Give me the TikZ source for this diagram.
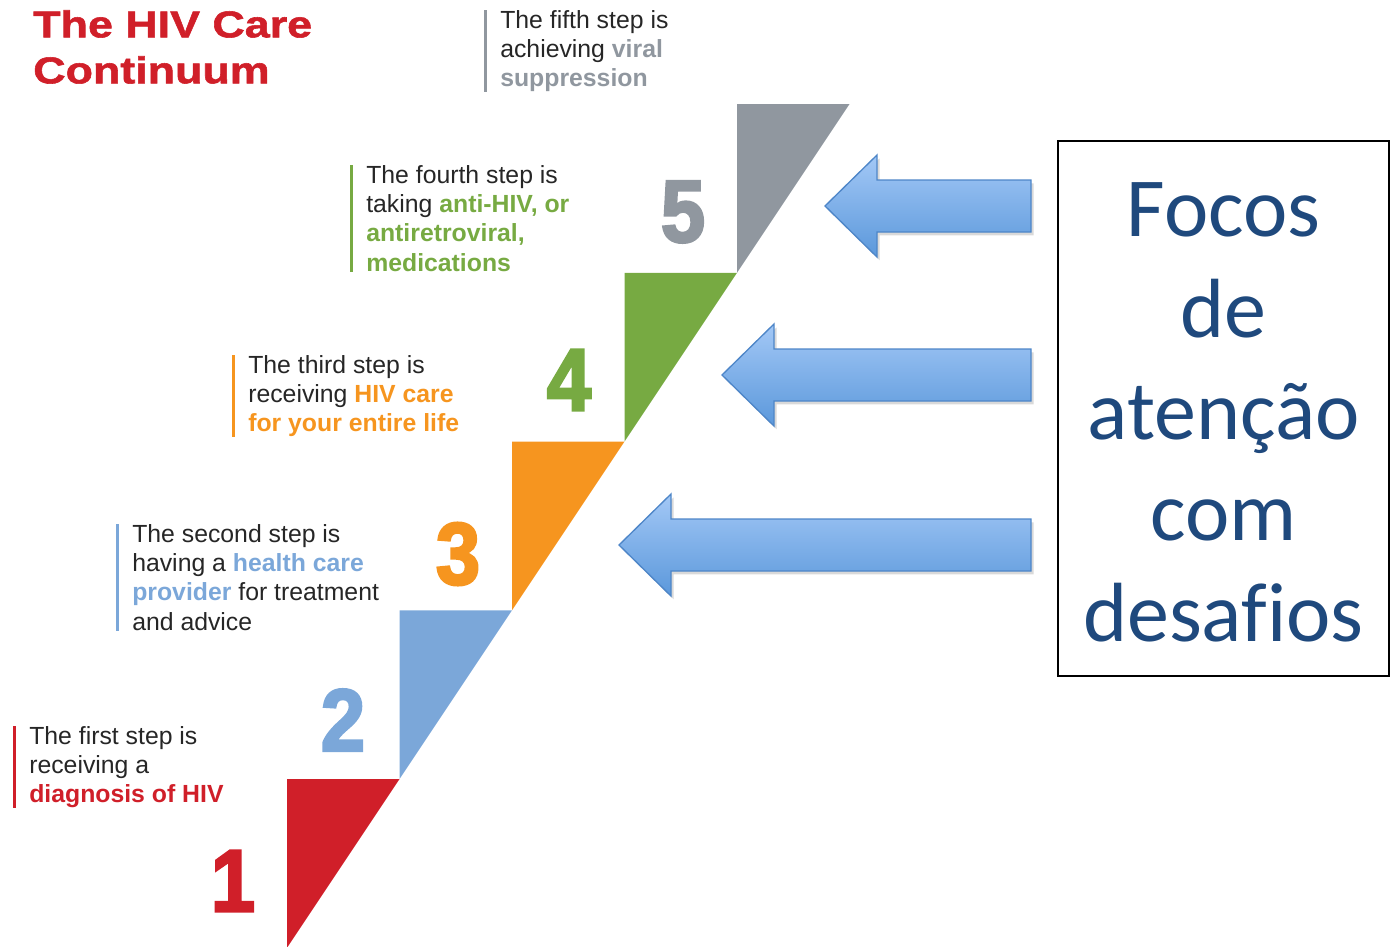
\documentclass[tikz,border=0pt]{standalone}
\usepackage{fontspec}
\setmainfont{Liberation Sans}
\newfontfamily\boxfont[Ligatures=NoCommon]{Carlito}
\newfontfamily\titlefont[FakeStretch=1.2,FakeBold=1.5]{Liberation Sans Bold}
\newfontfamily\numfont[FakeBold=3,FakeStretch=0.9]{Liberation Sans Bold}
\usetikzlibrary{shadows,positioning}
\definecolor{hivred}{HTML}{D01F29}
\definecolor{hivblue}{HTML}{7BA7D9}
\definecolor{hivorange}{HTML}{F6951F}
\definecolor{hivgreen}{HTML}{77AA42}
\definecolor{hivgray}{HTML}{90979F}
\definecolor{stepink}{HTML}{262626}
\definecolor{boxblue}{HTML}{1F497D}
\definecolor{arrowtop}{HTML}{A3C8F6}
\definecolor{arrowbot}{HTML}{5B98DB}
\definecolor{arrowline}{HTML}{4E86C8}
\newcommand{\stephl}[2]{{\bfseries\color{#1}#2}}
\tikzset{
  stepnum/.style={
      inner sep=0,
      font=\numfont\fontsize{66}{66}\selectfont
  },
  steptext/.style={
      anchor=north west,
      align=left,
      inner sep=0,
      text=stepink,
      font=\fontsize{18.6}{22}\selectfont
  },
  stepbar/.style={line width=2.25pt},
  bigarrow/.style={
      draw=arrowline,
      line width=1pt,
      top color=arrowtop,
      bottom color=arrowbot,
      drop shadow={opacity=0.3,shadow xshift=2pt,shadow yshift=-2.5pt}
  }
}

\begin{document}
\begin{tikzpicture}[x=0.75pt,y=-0.75pt]
    \useasboundingbox (0,0) rectangle (1391,946);
    % the staircase
    \foreach \i/\col in {0/hivred,1/hivblue,2/hivorange,3/hivgreen,4/hivgray}
      \fill[\col] ({287+112.5*\i},{779-168.75*\i}) -- ++(112.5,0)
        -- ({287+112.5*\i},{947.75-168.75*\i}) -- cycle;
    \node[stepnum,text=hivred] (n1) at (233,881) {1};
    \node[stepnum,text=hivblue] (n2) at (343,720) {2};
    \node[stepnum,text=hivorange] (n3) at (458,554) {3};
    \node[stepnum,text=hivgreen] (n4) at (569,380) {4};
    \node[stepnum,text=hivgray] (n5) at (683,212) {5};
    % title and step texts
    \node[anchor=north west,align=left,inner sep=0,text=hivred,
      font=\titlefont\fontsize{28}{34.5}\selectfont] (title) at (33,10)
      {The HIV Care\\Continuum};
    \node[steptext] (s1) at (29,726)
      {The first step is\\receiving a\\\stephl{hivred}{diagnosis of HIV}};
    \node[steptext] (s2) at (132,524)
      {The second step is\\having a \stephl{hivblue}{health care}\\
       \stephl{hivblue}{provider} for treatment\\and advice};
    \node[steptext] (s3) at (248,355)
      {The third step is\\receiving \stephl{hivorange}{HIV care}\\
       \stephl{hivorange}{for your entire life}};
    \node[steptext] (s4) at (366,165)
      {The fourth step is\\taking \stephl{hivgreen}{anti-HIV, or}\\
       \stephl{hivgreen}{antiretroviral,}\\\stephl{hivgreen}{medications}};
    \node[steptext] (s5) at (500,10)
      {The fifth step is\\achieving \stephl{hivgray}{viral}\\
       \stephl{hivgray}{suppression}};
    \foreach \s/\col in {s1/hivred,s2/hivblue,s3/hivorange,s4/hivgreen,s5/hivgray}
      \draw[stepbar,\col] ([xshift=-11.25pt]\s.north west) -- ([xshift=-11.25pt]\s.south west);
    % arrows and box
    \foreach \tx/\cy in {825/206,722/375,619/545}
      \path[bigarrow] (\tx,\cy) -- ({\tx+52},{\cy-51}) -- ({\tx+52},{\cy-26})
        -- (1031,{\cy-26}) -- (1031,{\cy+26}) -- ({\tx+52},{\cy+26})
        -- ({\tx+52},{\cy+51}) -- cycle;
    \node[draw,line width=1.5pt,minimum width=248.25pt,minimum height=401.25pt]
      (focos) at (1223.5,408.5) {};
    \node[align=center,text=boxblue,font=\boxfont\fontsize{63}{76}\selectfont]
      (focoslbl) at ([yshift=-3pt]focos.center) {Focos\\de\\atenção\\com\\desafios};
\end{tikzpicture}
\end{document}
